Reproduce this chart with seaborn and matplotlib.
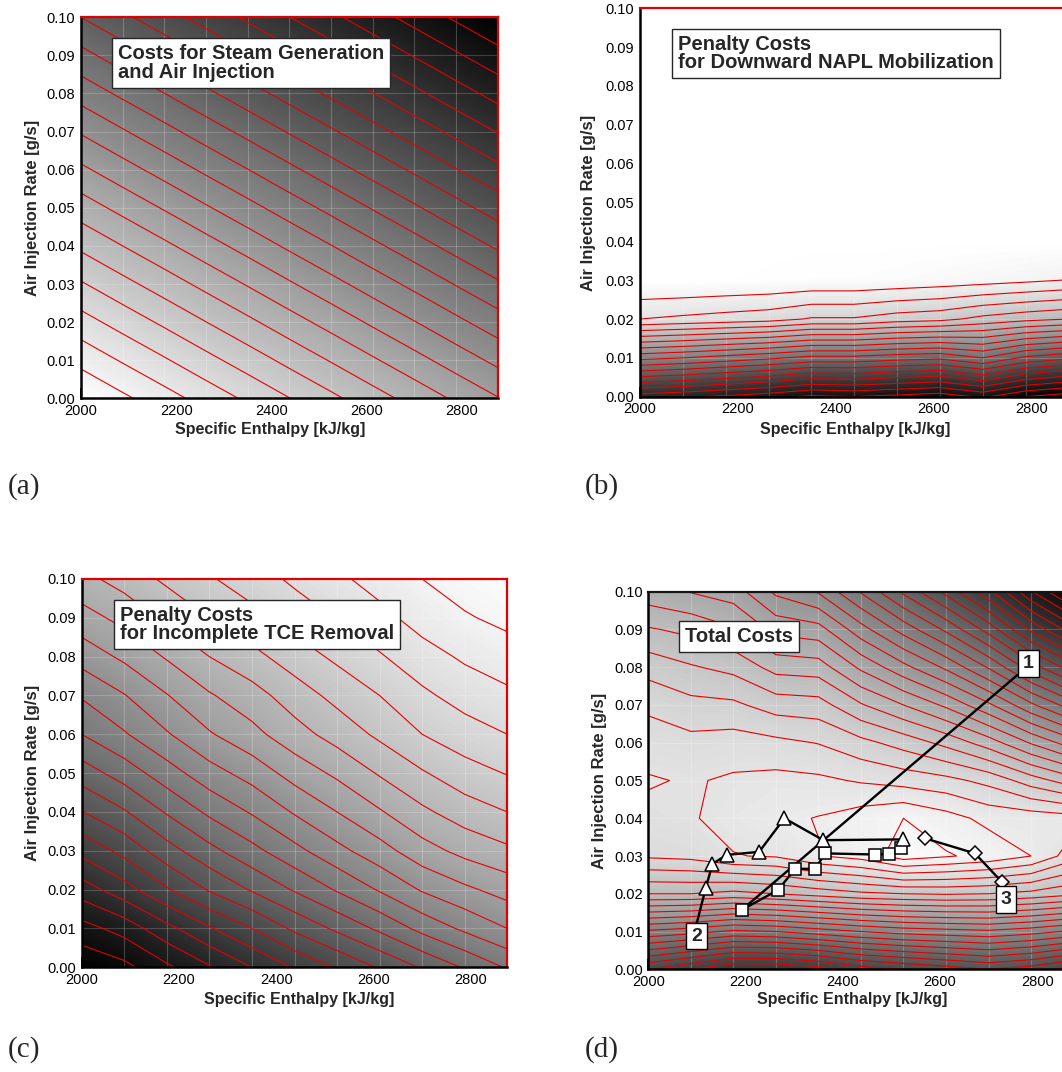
import numpy as np
import matplotlib
matplotlib.use("Agg")
import matplotlib.pyplot as plt
from matplotlib.ticker import MultipleLocator, FormatStrFormatter
import seaborn as sns

# mesh of the optimisation runs
enthalpy = [2000, 2087.5, 2175, 2262.5, 2350, 2437.5, 2525, 2612.5, 2700, 2787.5, 2875]
air_rate = [0.00, 0.01, 0.02, 0.03, 0.04, 0.05, 0.06, 0.07, 0.08, 0.09, 0.10]

# (a) steam generation + air injection (contour level units)
steam_cost = [0.0, 0.80, 1.59, 2.39, 3.18, 3.98, 4.77, 5.57, 6.36, 7.16, 7.95]
air_cost = [0.0, 1.30, 2.60, 3.90, 5.20, 6.50, 7.80, 9.10, 10.40, 11.70, 13.00]

# (b) downward NAPL mobilization, one row per air rate
napl_penalty = [
    [15.5, 15.8, 16.2, 16.6, 17.2, 17.0, 17.3, 17.6, 16.8, 18.0, 18.6],
    [8.7, 9.0, 9.4, 9.8, 10.3, 10.3, 10.6, 10.8, 10.0, 11.2, 11.8],
    [2.0, 2.2, 2.4, 2.6, 3.1, 3.1, 3.5, 3.7, 4.3, 4.7, 5.0],
    [0.0, 0.0, 0.05, 0.1, 0.2, 0.2, 0.3, 0.45, 0.6, 0.8, 1.04],
    [0, 0, 0, 0, 0, 0, 0, 0, 0, 0, 0],
    [0, 0, 0, 0, 0, 0, 0, 0, 0, 0, 0],
    [0, 0, 0, 0, 0, 0, 0, 0, 0, 0, 0],
    [0, 0, 0, 0, 0, 0, 0, 0, 0, 0, 0],
    [0, 0, 0, 0, 0, 0, 0, 0, 0, 0, 0],
    [0, 0, 0, 0, 0, 0, 0, 0, 0, 0, 0],
    [0, 0, 0, 0, 0, 0, 0, 0, 0, 0, 0],
]

# (c) incomplete TCE removal
tce_penalty = [
    [20.8, 20.3, 19.2, 18.1, 17.0, 15.9, 14.9, 13.9, 12.9, 11.9, 10.9],
    [19.4, 18.6, 17.3, 16.1, 15.0, 13.8, 12.8, 11.8, 10.7, 9.8, 9.0],
    [17.5, 16.4, 15.1, 13.9, 12.9, 11.9, 10.9, 9.9, 8.9, 8.2, 7.6],
    [15.7, 14.7, 13.4, 12.3, 11.3, 10.3, 9.3, 8.4, 7.4, 6.7, 6.2],
    [14.05, 13.1, 11.9, 10.8, 9.9, 8.9, 8.0, 7.1, 6.2, 5.5, 5.0],
    [12.5, 11.55, 10.45, 9.4, 8.6, 7.6, 6.8, 5.9, 5.1, 4.4, 3.95],
    [11.0, 10.1, 9.1, 8.1, 7.3, 6.4, 5.6, 4.8, 4.0, 3.45, 3.0],
    [9.9, 9.05, 8.05, 7.1, 6.4, 5.5, 4.7, 4.0, 3.2, 2.6, 2.2],
    [8.6, 7.8, 6.9, 6.0, 5.3, 4.5, 3.8, 3.1, 2.4, 1.85, 1.45],
    [7.4, 6.7, 5.8, 5.0, 4.3, 3.6, 2.95, 2.3, 1.6, 1.1, 0.75],
    [6.3, 5.6, 4.8, 4.1, 3.5, 2.8, 2.2, 1.6, 1.0, 0.55, 0.2],
]

# (d) total costs
total_costs = [
    [19.0, 20.0, 21.0, 21.0, 20.5, 19.5, 19.0, 18.5, 18.0, 18.5, 19.5],
    [13.2, 13.6, 14.2, 14.0, 13.5, 13.0, 12.6, 12.4, 12.2, 12.6, 13.2],
    [7.0, 7.0, 7.3, 7.0, 6.6, 6.2, 6.0, 5.9, 6.0, 6.3, 6.8],
    [3.85, 3.7, 3.05, 2.9, 2.05, 1.6, 0.5, 0.9, 1.3, 2.0, 3.6],
    [3.3, 3.1, 2.6, 2.25, 1.95, 1.5, 1.0, 1.6, 2.3, 2.4, 2.6],
    [2.9, 3.1, 2.85, 2.7, 2.8, 3.1, 3.4, 3.7, 4.3, 5.5, 6.6],
    [3.5, 3.7, 3.55, 3.75, 4.04, 4.7, 5.4, 6.3, 7.5, 9.1, 10.6],
    [4.2, 4.7, 4.8, 5.45, 5.58, 6.9, 8.0, 9.2, 10.8, 12.8, 14.6],
    [5.4, 5.9, 6.3, 7.36, 7.51, 9.2, 10.7, 12.2, 14.1, 16.5, 18.6],
    [6.9, 7.25, 7.9, 9.3, 9.6, 11.6, 13.4, 15.2, 17.4, 20.2, 22.6],
    [8.6, 9.05, 9.5, 11.2, 12.1, 14.1, 16.2, 18.3, 20.7, 23.9, 26.6],
]

# optimisation paths in (d)
path1_h = [2759, 2192, 2267, 2302, 2343, 2364, 2466, 2496, 2519]
path1_q = [0.0779, 0.0157, 0.0210, 0.0266, 0.0266, 0.0307, 0.0304, 0.0305, 0.0321]
path2_h = [2099, 2118, 2132, 2161, 2228, 2280, 2360, 2525]
path2_q = [0.0119, 0.0214, 0.0279, 0.0303, 0.0311, 0.0400, 0.0342, 0.0344]
path3_h = [2727, 2672, 2569]
path3_q = [0.0232, 0.0307, 0.0347]

sns.set_theme(style="ticks")
plt.rcParams['font.family'] = ['Liberation Sans', 'DejaVu Sans']
plt.rcParams['axes.linewidth'] = 1.6

fig = plt.figure(figsize=(10.62, 10.72), dpi=100)
W, H = 1062.0, 1072.0


def px_axes(x0, x1, y0, y1):
    return fig.add_axes([x0 / W, 1 - y1 / H, (x1 - x0) / W, (y1 - y0) / H])


def draw_field(ax, Z, vmax, nlev, frame):
    X, Y = np.meshgrid(enthalpy, air_rate)
    Z = np.asarray(Z, dtype=float)
    ax.contourf(X, Y, Z, levels=np.linspace(-0.6, vmax + 0.6, 150), cmap='gray_r',
                vmin=0, vmax=vmax, extend='both')
    ax.vlines(enthalpy[1:-1], 0, 0.1, colors='white', alpha=0.22, lw=0.8)
    ax.hlines(air_rate[1:-1], 2000, 2875, colors='white', alpha=0.18, lw=0.8)
    ax.contour(X, Y, Z, levels=np.arange(1, nlev + 1), colors='#e60000', linewidths=0.8)
    ax.set_xlim(2000, 2875)
    ax.set_ylim(0, 0.1)
    ax.set_xticks([2000, 2200, 2400, 2600, 2800])
    ax.xaxis.set_minor_locator(MultipleLocator(40))
    ax.set_yticks(air_rate)
    ax.yaxis.set_minor_locator(MultipleLocator(0.002))
    ax.yaxis.set_major_formatter(FormatStrFormatter('%.2f'))
    ax.tick_params(which='major', direction='in', length=7, width=1.3, labelsize=10.5,
                   colors='black', pad=4)
    ax.tick_params(which='minor', direction='in', length=3.5, width=1.0)
    ax.grid(False)
    for s in ['left', 'bottom']:
        ax.spines[s].set_color('black')
        ax.spines[s].set_linewidth(1.8)
    for s in ['top', 'right']:
        ax.spines[s].set_color(frame)
        ax.spines[s].set_linewidth(1.6)
    ax.set_xlabel('Specific Enthalpy [kJ/kg]', fontsize=11.5, fontweight='bold')
    ax.set_ylabel('Air Injection Rate [g/s]', fontsize=12, fontweight='bold')


def title_box(ax, x, y, txt):
    ax.text(x, y, txt, transform=ax.transAxes, ha='left', va='top', fontsize=14.5,
            fontweight='bold', linespacing=0.95, zorder=10,
            bbox=dict(boxstyle='square,pad=0.3', fc='white', ec='0.15', lw=1.0))


# (a)
ax_a = px_axes(81, 497.7, 17.3, 398.3)
draw_field(ax_a, np.add.outer(air_cost, steam_cost), 21, 20, '#e00000')
title_box(ax_a, 0.088, 0.929, 'Costs for Steam Generation\nand Air Injection')
ax_a.xaxis.set_label_coords(0.4536, -0.062)
ax_a.yaxis.set_label_coords(-0.099, 0.5)

# (b)
ax_b = px_axes(640, 1068.4, 8.3, 396.7)
draw_field(ax_b, napl_penalty, 18.5, 18, '#e00000')
title_box(ax_b, 0.0894, 0.931, 'Penalty Costs\nfor Downward NAPL Mobilization')
ax_b.xaxis.set_label_coords(0.502, -0.065)
ax_b.yaxis.set_label_coords(-0.103, 0.5)

# (c)
ax_c = px_axes(81.7, 507.3, 579, 967.3)
draw_field(ax_c, tce_penalty, 21, 21, '#e00000')
title_box(ax_c, 0.090, 0.930, 'Penalty Costs\nfor Incomplete TCE Removal')
ax_c.xaxis.set_label_coords(0.5106, -0.0636)
ax_c.yaxis.set_label_coords(-0.098, 0.5)

# (d)
ax_d = px_axes(648.3, 1073.6, 591.7, 969.3)
draw_field(ax_d, total_costs, 27, 26, '#151515')
title_box(ax_d, 0.087, 0.9065, 'Total Costs')
ax_d.xaxis.set_label_coords(0.479, -0.06)
ax_d.yaxis.set_label_coords(-0.097, 0.5)

line_kw = dict(sort=False, estimator=None, color='black', linewidth=1.7,
               markerfacecolor='white', markeredgecolor='black', markeredgewidth=1.1)
sns.lineplot(x=path1_h, y=path1_q, ax=ax_d, marker='s', markersize=8,
             markevery=list(range(1, len(path1_h))), **line_kw)
sns.lineplot(x=path2_h, y=path2_q, ax=ax_d, marker='^', markersize=10,
             markevery=list(range(1, len(path2_h))), **line_kw)
sns.lineplot(x=path3_h, y=path3_q, ax=ax_d, marker='D', markersize=7.5, **line_kw)

for lab, hx, qy in [('1', 2782, 0.0809), ('2', 2099, 0.0088), ('3', 2736, 0.0184)]:
    ax_d.text(hx, qy, lab, ha='center', va='center', fontsize=14, fontweight='bold',
              zorder=12, bbox=dict(boxstyle='square,pad=0.25', fc='white', ec='black', lw=1.0))

for lab, x, y in [('(a)', 8, 487), ('(b)', 585, 487), ('(c)', 8, 1050), ('(d)', 585, 1050)]:
    fig.text(x / W, 1 - y / H, lab, ha='left', va='center', fontsize=21,
             family=['Liberation Serif', 'DejaVu Serif'])

fig.savefig('out.png', dpi=100, facecolor='white')
